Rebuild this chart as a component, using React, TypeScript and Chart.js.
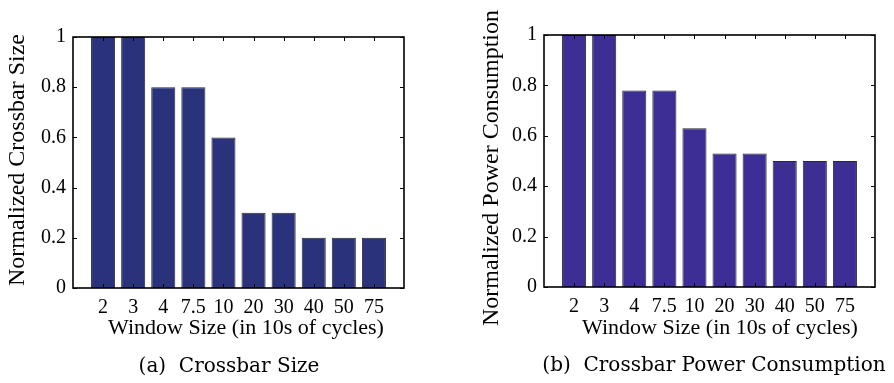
import React, { useEffect, useRef } from "react";
import { Chart, registerables } from "chart.js";

Chart.register(...registerables);

// ---- data ----
const windowLabels = ["2", "3", "4", "7.5", "10", "20", "30", "40", "50", "75"];
const crossbarSize = [1.0, 1.0, 0.8, 0.8, 0.6, 0.3, 0.3, 0.2, 0.2, 0.2];
const powerConsumption = [1.0, 1.0, 0.78, 0.78, 0.63, 0.53, 0.53, 0.5, 0.5, 0.5];
const yTickValues = [0, 0.2, 0.4, 0.6, 0.8, 1];
const yTickLabels = ["0", "0.2", "0.4", "0.6", "0.8", "1"];
const xTitle = "Window Size (in 10s of cycles)";

const SERIF = "'Liberation Serif', 'Times New Roman', serif";

const decorPlugin = {
  id: "decor",
  afterDatasetsDraw(chart: any) {
    const o = chart.options.plugins.decor;
    if (!o) return;
    const ctx = chart.ctx;
    const { left, right, top, bottom } = chart.chartArea;
    const xs = chart.scales.x;
    const ys = chart.scales.y;
    ctx.save();
    ctx.strokeStyle = "#000";
    ctx.lineWidth = 1;
    ctx.beginPath();
    for (const v of yTickValues) {
      const y = Math.round(ys.getPixelForValue(v)) + 0.5;
      ctx.moveTo(left, y);
      ctx.lineTo(left + 4, y);
      ctx.moveTo(right, y);
      ctx.lineTo(right - 4, y);
    }
    for (let i = 0; i < windowLabels.length; i++) {
      const x = Math.round(xs.getPixelForValue(i + 1)) + 0.5;
      ctx.moveTo(x, top);
      ctx.lineTo(x, top + 4);
      ctx.moveTo(x, bottom);
      ctx.lineTo(x, bottom - 4);
    }
    ctx.stroke();
    ctx.lineWidth = 1.6;
    ctx.strokeRect(left, top, right - left, bottom - top);
    ctx.restore();
  },
  afterDraw(chart: any) {
    const o = chart.options.plugins.decor;
    if (!o) return;
    const ctx = chart.ctx;
    ctx.save();
    ctx.fillStyle = "#000";
    ctx.textAlign = "center";
    ctx.textBaseline = "middle";
    ctx.save();
    ctx.translate(o.yTitleX, o.yTitleY);
    ctx.rotate(-Math.PI / 2);
    ctx.font = `24px ${SERIF}`;
    ctx.fillText(o.yTitle, 0, 0);
    ctx.restore();
    ctx.font = `22px ${SERIF}`;
    ctx.fillText(xTitle, o.xTitleX, o.xTitleY);
    ctx.font = `20px 'DejaVu Serif', serif`;
    ctx.fillText(o.caption, o.captionX, o.captionY);
    ctx.restore();
  },
};

type Props = {
  values: number[];
  color: string;
  yAxisWidth: number;
  padRight: number;
  padTop: number;
  xAxisHeight: number;
  decor: any;
};

function BarPanel({ values, color, yAxisWidth, padRight, padTop, xAxisHeight, decor }: Props) {
  const ref = useRef<HTMLCanvasElement>(null);
  useEffect(() => {
    if (!ref.current) return;
    const chart = new Chart(ref.current, {
      type: "bar",
      data: {
        datasets: [
          {
            data: values.map((v, i) => ({ x: i + 1, y: v })),
            backgroundColor: color,
            borderColor: "#2a2a2a",
            borderWidth: 1,
            barPercentage: 0.8,
            categoryPercentage: 1,
          },
        ],
      },
      options: {
        responsive: false,
        animation: false,
        devicePixelRatio: 1,
        layout: { padding: { left: 0, right: padRight, top: padTop, bottom: 0 } },
        plugins: {
          legend: { display: false },
          tooltip: { enabled: false },
          decor,
        } as any,
        scales: {
          x: {
            type: "linear",
            min: 0,
            max: 11,
            offset: false,
            grid: { display: false, drawTicks: false, offset: false },
            border: { display: false },
            afterBuildTicks: (axis: any) => {
              axis.ticks = windowLabels.map((_, i) => ({ value: i + 1 }));
            },
            afterFit: (axis: any) => {
              axis.height = xAxisHeight;
            },
            ticks: {
              autoSkip: false,
              maxRotation: 0,
              padding: 8,
              color: "#000",
              font: { family: SERIF, size: 20 },
              callback: (v: any) => windowLabels[Number(v) - 1] ?? "",
            },
          },
          y: {
            min: 0,
            max: 1,
            grid: { display: false, drawTicks: false },
            border: { display: false },
            afterBuildTicks: (axis: any) => {
              axis.ticks = yTickValues.map((v) => ({ value: v }));
            },
            afterFit: (axis: any) => {
              axis.width = yAxisWidth;
            },
            ticks: {
              padding: 7,
              color: "#000",
              font: { family: SERIF, size: 20 },
              callback: (v: any) => yTickLabels[yTickValues.indexOf(Number(v))] ?? "",
            },
          },
        },
      },
      plugins: [decorPlugin],
    } as any);
    return () => chart.destroy();
  }, []);
  return <canvas ref={ref} width={447} height={383} style={{ display: "block" }} />;
}

export default function App() {
  return (
    <div style={{ position: "absolute", left: 0, top: 0, width: 894, height: 383, background: "#fff", display: "flex" }}>
      <BarPanel
        values={crossbarSize}
        color="#29327a"
        yAxisWidth={73}
        padRight={43}
        padTop={37}
        xAxisHeight={95}
        decor={{
          yTitle: "Normalized Crossbar Size",
          yTitleX: 18,
          yTitleY: 160,
          xTitleX: 246,
          xTitleY: 328,
          caption: "(a)  Crossbar Size",
          captionX: 229,
          captionY: 367,
        }}
      />
      <BarPanel
        values={powerConsumption}
        color="#3c2e94"
        yAxisWidth={97}
        padRight={19}
        padTop={35}
        xAxisHeight={96}
        decor={{
          yTitle: "Normalized Power Consumption",
          yTitleX: 45,
          yTitleY: 168,
          xTitleX: 273,
          xTitleY: 328,
          caption: "(b)  Crossbar Power Consumption",
          captionX: 267,
          captionY: 366,
        }}
      />
    </div>
  );
}
